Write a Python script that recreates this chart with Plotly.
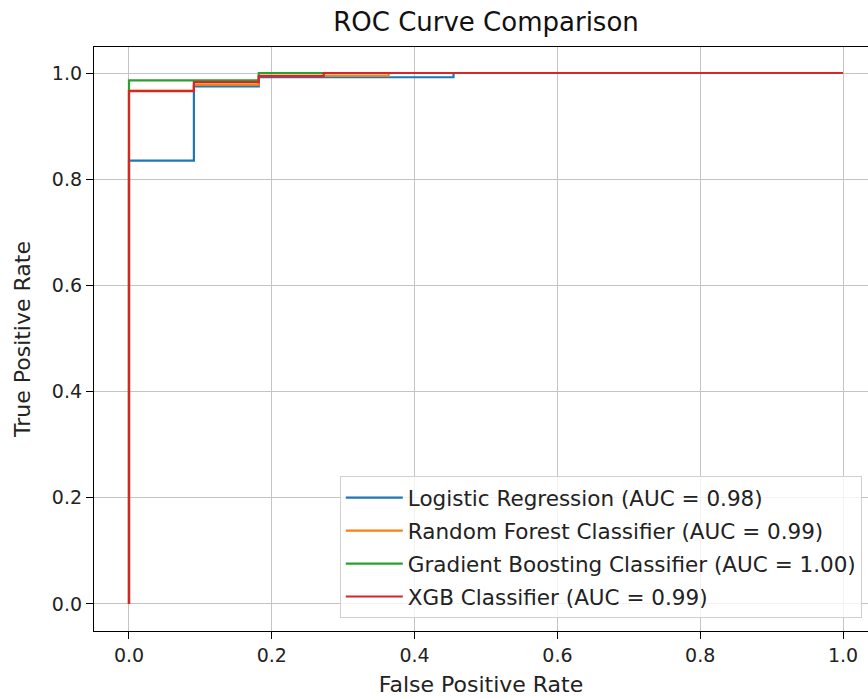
import plotly.graph_objects as go

names = [
    "Logistic Regression (AUC = 0.98)",
    "Random Forest Classifier (AUC = 0.99)",
    "Gradient Boosting Classifier (AUC = 1.00)",
    "XGB Classifier (AUC = 0.99)",
]
colors = ["#1f77b4", "#ff7f0e", "#2ca02c", "#d62728"]

fpr_lr = [0.0, 0.0, 0.0909, 0.0909, 0.1818, 0.1818, 0.4545, 0.4545, 1.0]
tpr_lr = [0.0, 0.835, 0.835, 0.975, 0.975, 0.992, 0.992, 1.0, 1.0]

fpr_rf = [0.0, 0.0, 0.0909, 0.0909, 0.1818, 0.1818, 0.3636, 0.3636, 1.0]
tpr_rf = [0.0, 0.967, 0.967, 0.978, 0.978, 0.995, 0.995, 1.0, 1.0]

fpr_gb = [0.0, 0.0, 0.1818, 0.1818, 1.0]
tpr_gb = [0.0, 0.986, 0.986, 1.0, 1.0]

fpr_xgb = [0.0, 0.0, 0.0909, 0.0909, 0.1818, 0.1818, 0.2727, 0.2727, 1.0]
tpr_xgb = [0.0, 0.966, 0.966, 0.983, 0.983, 0.994, 0.994, 1.0, 1.0]

xticks = [0.0, 0.2, 0.4, 0.6, 0.8, 1.0]
yticks = [0.0, 0.2, 0.4, 0.6, 0.8, 1.0]

series = [(fpr_lr, tpr_lr), (fpr_rf, tpr_rf), (fpr_gb, tpr_gb), (fpr_xgb, tpr_xgb)]

fig = go.Figure()
for i, ((fx, ty), name, c) in enumerate(zip(series, names, colors)):
    fig.add_trace(go.Scatter(x=fx, y=ty, mode="lines", name=name, legendgroup=f"g{i}",
                             line=dict(color=c, width=2.2)))

font = "DejaVu Sans"
fig.update_layout(
    width=868, height=698,
    margin=dict(l=94, r=0, t=47, b=67),
    paper_bgcolor="white", plot_bgcolor="white",
    font=dict(family=font, color="#222222", size=19),
    title=dict(text="ROC Curve Comparison", x=486 / 868, xanchor="center",
               y=1 - 22 / 698, yanchor="middle", font=dict(size=26, color="#111111")),
    xaxis=dict(range=[-0.049, 1.035], tickvals=xticks, ticktext=[f"{v:.1f}" for v in xticks],
               showgrid=True, gridcolor="#c4c4c4", gridwidth=1, zeroline=False,
               showline=True, linecolor="black", linewidth=1.3, mirror=True,
               ticks="outside", ticklen=7, tickcolor="black",
               title=dict(text="False Positive Rate", font=dict(size=22), standoff=11)),
    yaxis=dict(range=[-0.051, 1.049], tickvals=yticks, ticktext=[f"{v:.1f}" for v in yticks],
               showgrid=True, gridcolor="#c4c4c4", gridwidth=1, zeroline=False,
               showline=True, linecolor="black", linewidth=1.3, mirror=False,
               ticks="outside", ticklen=7, tickcolor="black",
               title=dict(text="True Positive Rate", font=dict(size=22), standoff=15)),
    legend=dict(x=0.992, y=0.022, xanchor="right", yanchor="bottom",
                bgcolor="rgba(255,255,255,0.8)", bordercolor="#d0d0d0", borderwidth=1,
                font=dict(size=21.5, color="#222222"), itemwidth=57, tracegroupgap=2),
)

fig.write_html("out.html")
